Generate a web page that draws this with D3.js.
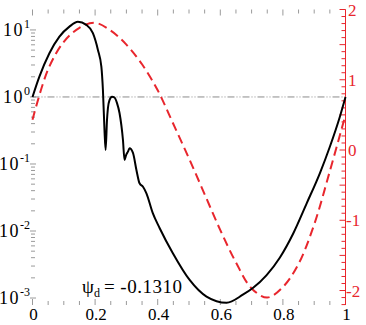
<!DOCTYPE html>
<html lang="en">
<head>
    <meta charset="UTF-8">
    <title>psi_d</title>
    <script src="https://cdn.jsdelivr.net/npm/d3@7/dist/d3.min.js"></script>
    <style>
        body { margin: 0; background: #fff; }
    </style>
</head>
<body>
<svg id="main-svg" width="366" height="325" xmlns="http://www.w3.org/2000/svg"></svg>

<script>
    'use strict';
    /* black curve, left log axis */
    const ampX = [0, 0.022, 0.054, 0.086, 0.118, 0.145, 0.172, 0.193, 0.209, 0.22, 0.225, 0.23, 0.2336, 0.238, 0.241,
        0.246, 0.254, 0.262, 0.27, 0.278, 0.289, 0.294, 0.299, 0.305, 0.31, 0.321, 0.332, 0.342, 0.353, 0.364, 0.384,
        0.406, 0.448, 0.502, 0.556, 0.62, 0.672, 0.704, 0.748, 0.79, 0.833, 0.876, 0.918, 0.95, 0.982, 1];
    const ampV = [1.0, 2.01, 4.49, 7.94, 11.2, 13.2, 11.9, 8.93, 5.03, 2.83, 1.27, 0.32, 0.162, 0.454, 0.685,
        0.90, 1.01, 0.98, 0.81, 0.577, 0.228, 0.115, 0.136, 0.153, 0.171, 0.146, 0.0814, 0.0515, 0.0458, 0.0365, 0.0186,
        0.0111, 0.0047, 0.00186, 0.00105, 0.00085, 0.00112, 0.00141, 0.0022, 0.0040, 0.0092, 0.0259, 0.0727, 0.181, 0.508, 1.0];
    /* red dashed curve, right axis */
    const phaseX = [0, 0.05, 0.1, 0.15, 0.2, 0.25, 0.3, 0.35, 0.4, 0.45, 0.5, 0.55, 0.6, 0.65, 0.7, 0.75, 0.8, 0.85, 0.9, 0.95, 1];
    const phaseV = [0.43, 1.15, 1.54, 1.74, 1.81, 1.70, 1.50, 1.22, 0.85, 0.37, -0.12, -0.63, -1.14, -1.60, -1.97, -2.10,
        -1.95, -1.62, -1.06, -0.30, 0.50];
    const xTicks = [0, 0.2, 0.4, 0.6, 0.8, 1];
    const xTickLabels = ['0', '0.2', '0.4', '0.6', '0.8', '1'];
    const leftExps = [-3, -2, -1, 0, 1];
    const rightTicks = [-2, -1, 0, 1, 2];
    const psiLabel = '-0.1310';

    const red = '#e8262d';
    const grey = '#9a9a9a';
    const svg = d3.select('#main-svg')
        .attr('font-family', '"Liberation Serif", "Times New Roman", Times, "DejaVu Serif", serif');

    const x = d3.scaleLinear().domain([0, 1]).range([32.5, 345.5]);
    const yL = d3.scaleLog().domain([Math.pow(10, -3.104), Math.pow(10, 1.305)]).range([305, 9.5]);
    const yR = d3.scaleLinear().domain([-2.206, 2]).range([305, 9.5]);

    // x ticks, top and bottom, every 0.05
    const xMinor = d3.range(0, 21).map(i => i / 20);
    xMinor.forEach(t => {
        const major = Math.abs(t * 5 - Math.round(t * 5)) < 1e-6;
        const len = major ? 6 : 4;
        svg.append('line').attr('x1', x(t)).attr('x2', x(t)).attr('y1', 305).attr('y2', 305 - len)
            .attr('stroke', grey).attr('stroke-width', 1);
        svg.append('line').attr('x1', x(t)).attr('x2', x(t)).attr('y1', 9.5).attr('y2', 9.5 + len)
            .attr('stroke', grey).attr('stroke-width', 1);
    });
    svg.selectAll('text.xl').data(xTicks).enter().append('text')
        .attr('class', 'xl')
        .attr('x', d => x(d) + 1)
        .attr('y', 320)
        .attr('text-anchor', 'middle')
        .attr('font-size', 17)
        .text((d, i) => xTickLabels[i]);

    // left log ticks
    leftExps.forEach(e => {
        const v = Math.pow(10, e);
        svg.append('line').attr('x1', 30).attr('x2', 36).attr('y1', yL(v)).attr('y2', yL(v))
            .attr('stroke', grey).attr('stroke-width', 1);
        if (e < 1) {
            d3.range(2, 10).forEach(k => {
                const yy = yL(k * v);
                svg.append('line').attr('x1', 31).attr('x2', 35).attr('y1', yy).attr('y2', yy)
                    .attr('stroke', grey).attr('stroke-width', 1);
            });
        }
        const t = svg.append('text')
            .attr('x', 30)
            .attr('y', yL(v) + 6)
            .attr('text-anchor', 'end')
            .attr('font-size', 18);
        t.append('tspan').attr('letter-spacing', 1.5).text('10');
        t.append('tspan').attr('dy', -8).attr('font-size', 12).text(e);
    });

    // horizontal reference line at 10^0
    svg.append('line')
        .attr('x1', x(0)).attr('x2', x(1))
        .attr('y1', yL(1)).attr('y2', yL(1))
        .attr('stroke', '#8c8c8c').attr('stroke-width', 1)
        .attr('stroke-dasharray', '7,2,1,2,1,2');

    // right axis
    svg.append('line').attr('x1', 345.5).attr('x2', 345.5).attr('y1', 9.5).attr('y2', 305)
        .attr('stroke', red).attr('stroke-width', 1);
    d3.range(-22, 21).forEach(i => {
        const v = i / 10;
        const len = (i % 5 === 0) ? 6 : 4;
        svg.append('line').attr('x1', 345.5 - len).attr('x2', 345.5).attr('y1', yR(v)).attr('y2', yR(v))
            .attr('stroke', red).attr('stroke-width', 1);
    });
    svg.selectAll('text.yr').data(rightTicks).enter().append('text')
        .attr('class', 'yr')
        .attr('x', d => d < 0 ? 346 : 348)
        .attr('y', d => yR(d) + 6)
        .attr('font-size', 17)
        .attr('fill', red)
        .text(d => d);

    // curves
    const phasePts = phaseX.map((d, i) => [d, phaseV[i]]);
    svg.append('path')
        .datum(phasePts)
        .attr('fill', 'none')
        .attr('stroke', red)
        .attr('stroke-width', 2)
        .attr('stroke-dasharray', '9,5')
        .attr('d', d3.line().x(d => x(d[0])).y(d => yR(d[1])).curve(d3.curveCatmullRom));

    const ampPts = ampX.map((d, i) => [d, ampV[i]]);
    svg.append('path')
        .datum(ampPts)
        .attr('fill', 'none')
        .attr('stroke', '#000')
        .attr('stroke-width', 2)
        .attr('d', d3.line().x(d => x(d[0])).y(d => yL(d[1])).curve(d3.curveMonotoneX));

    // annotation
    const ann = svg.append('text').attr('x', 82).attr('y', 293).attr('font-size', 19);
    ann.append('tspan').text('ψ');
    ann.append('tspan').attr('dy', 4).attr('font-size', 12).text('d');
    ann.append('tspan').attr('dy', -4).attr('dx', 4).attr('letter-spacing', 0.5).text('= ' + psiLabel);
</script>
</body>
</html>
